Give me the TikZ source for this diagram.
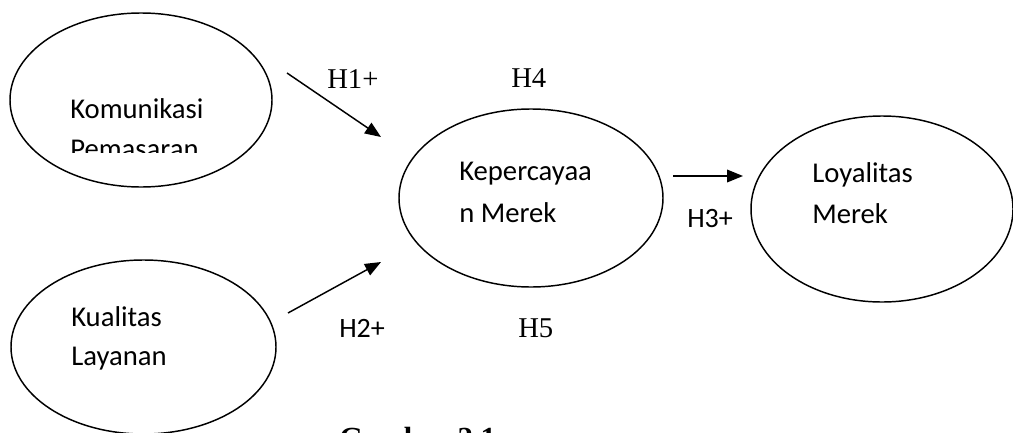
\documentclass[tikz,border=0pt]{standalone}
\usepackage{fontspec}
\setmainfont{Liberation Serif}
\newfontfamily\calib{Carlito}
\usetikzlibrary{shapes.geometric,arrows.meta}
\tikzset{
  construct/.style={draw, line width=1.1pt, ellipse, inner sep=0pt},
  lbl/.style={anchor=base west, inner sep=0pt, font=\calib\fontsize{21.5pt}{25pt}\selectfont},
  hyp/.style={anchor=base west, inner sep=0pt, font=\fontsize{21.5pt}{25pt}\selectfont},
  hypc/.style={anchor=base west, inner sep=0pt, font=\calib\fontsize{21pt}{25pt}\selectfont},
  path/.style={line width=1.1pt, -{Triangle[length=12pt,width=9.5pt]}},
}
\begin{document}
\begin{tikzpicture}[x=0.75pt, y=-0.75pt]
\clip (0,0) rectangle (1013,432);
\fill[white] (0,0) rectangle (1013,432);
% ellipses
\node[construct, minimum width=262*0.75pt, minimum height=174*0.75pt] (kp) at (141,100) {};
\node[construct, minimum width=265*0.75pt, minimum height=174*0.75pt] (kl) at (143.5,347) {};
\node[construct, minimum width=264*0.75pt, minimum height=178*0.75pt] (km) at (531,198) {};
\node[construct, minimum width=262*0.75pt, minimum height=186*0.75pt] (lm) at (882,209) {};
% texts
\node[lbl] (t1) at (70,118) {Komunikasi};
\begin{scope}
\clip (0,0) rectangle (1013,152);
\node[lbl] (t1b) at (70,158) {Pemasaran};
\end{scope}
\node[lbl] (t2) at (71,326) {Kualitas};
\node[lbl] (t2b) at (71,365) {Layanan};
\node[lbl] (t3) at (459,180) {Kepercayaa};
\node[lbl] (t3b) at (459,222) {n Merek};
\node[lbl] (t4) at (812,182) {Loyalitas};
\node[lbl] (t4b) at (812,223) {Merek};
% arrow ends
\coordinate (a1s) at (287,73);
\coordinate (a1e) at (381,137);
\coordinate (a2s) at (288,313);
\coordinate (a2e) at (381,262);
\coordinate (a3s) at (673,176);
\coordinate (a3e) at (743,176);
\draw[path] (a1s) -- (a1e);
\draw[path] (a2s) -- (a2e);
\draw[path] (a3s) -- (a3e);
% hypothesis labels
\node[hyp] (h1) at (327,88) {H1+};
\node[hyp] (h4) at (511,87) {H4};
\node[hypc] (h2) at (339,337) {H2+};
\node[hyp] (h5) at (518,337) {H5};
\node[hypc] (h3) at (687,227) {H3+};
% caption (cut off at the bottom, as in the reference)
\node[anchor=base west, inner sep=0pt, font=\bfseries\fontsize{23pt}{27pt}\selectfont] (cap) at (339,448) {Gambar 2.1};
\end{tikzpicture}
\end{document}
